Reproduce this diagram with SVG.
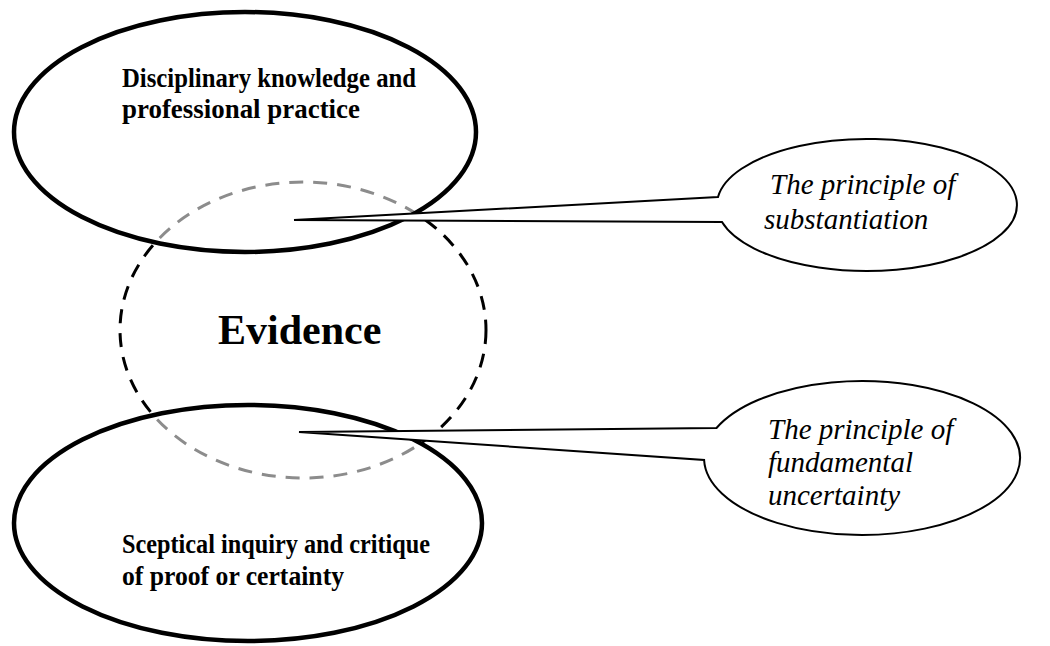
<svg xmlns="http://www.w3.org/2000/svg" width="1050" height="646" viewBox="0 0 1050 646">
<style>
.big{fill:#fff;fill-opacity:0.55;stroke:#000;stroke-width:4.5}
.circ{fill:none;stroke:#000;stroke-width:3;stroke-dasharray:14 10}
.call{fill:#fff;stroke:#000;stroke-width:2}
.b{font-family:"Liberation Serif",serif;font-weight:bold;font-size:26.5px;fill:#000}
.ev{font-family:"Liberation Serif",serif;font-weight:bold;font-size:42px;fill:#000}
.i{font-family:"Liberation Serif",serif;font-style:italic;font-size:29px;fill:#000}
</style>
<rect width="1050" height="646" fill="#fff"/>
<g id="evidence">
<ellipse class="circ" cx="303" cy="330" rx="183" ry="148"/>
<text class="ev" x="218" y="344">Evidence</text>
</g>
<g id="disciplinary">
<ellipse class="big" cx="245" cy="132" rx="231" ry="120"/>
<text class="b" x="122" y="87" textLength="294" lengthAdjust="spacingAndGlyphs">Disciplinary knowledge and</text>
<text class="b" x="122" y="118" textLength="238" lengthAdjust="spacingAndGlyphs">professional practice</text>
</g>
<g id="sceptical">
<ellipse class="big" cx="248" cy="523" rx="234" ry="118"/>
<text class="b" x="122" y="553" textLength="308" lengthAdjust="spacingAndGlyphs">Sceptical inquiry and critique</text>
<text class="b" x="122" y="585" textLength="222" lengthAdjust="spacingAndGlyphs">of proof or certainty</text>
</g>
<g id="connectors">
<path id="substantiation" class="call" d="M718,197 L294,220 L722,222 A150 66 0 1 0 718,197 Z"/>
<path id="uncertainty" class="call" d="M716.5,428 L299,432 L704.1,460 A158 77 0 1 0 716.5,428 Z"/>
</g>
<g id="label-substantiation">
<text class="i" x="770" y="194">The principle of</text>
<text class="i" x="764" y="229">substantiation</text>
</g>
<g id="label-uncertainty">
<text class="i" x="768" y="439">The principle of</text>
<text class="i" x="768" y="472">fundamental</text>
<text class="i" x="768" y="505">uncertainty</text>
</g>
</svg>
